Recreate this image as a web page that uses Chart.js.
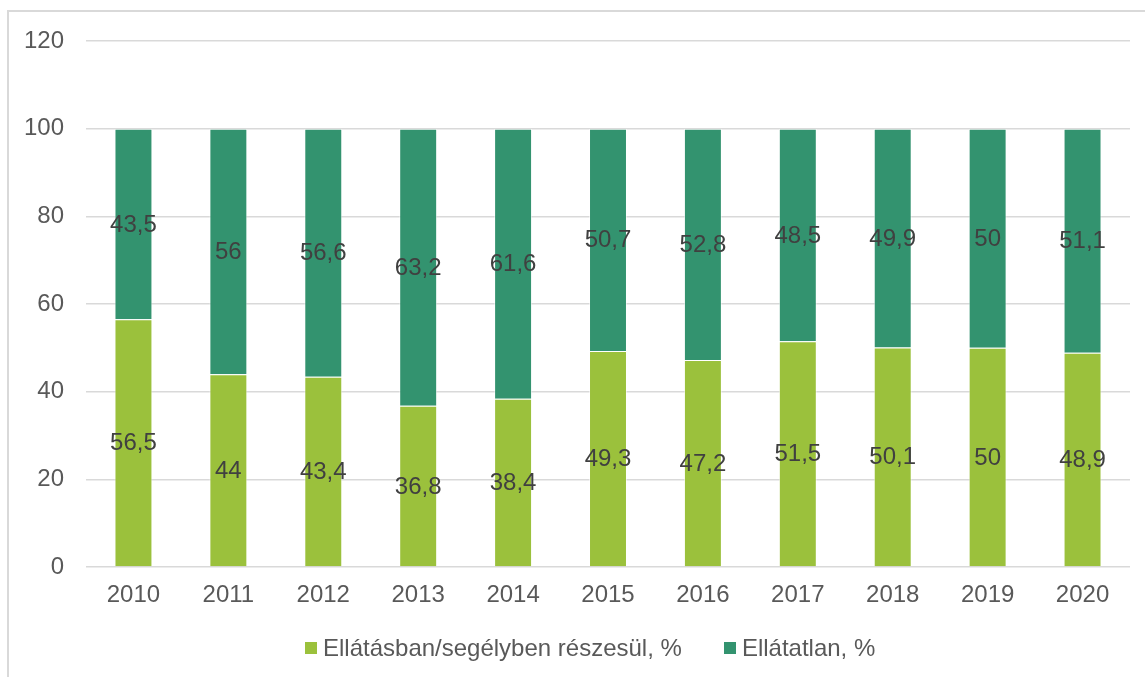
<!DOCTYPE html>
<html lang="hu">
<head>
  <meta charset="UTF-8">
  <title>Ellátásban részesülők aránya</title>
  <script src="https://cdn.jsdelivr.net/npm/chart.js"></script>
  <style>
    html, body { margin: 0; padding: 0; background: #fff; overflow: hidden; }
    .wrap { position: relative; width: 1145px; height: 677px; }
    .frame { position: absolute; left: 7px; top: 10px; right: -10px; bottom: -10px;
             border-left: 2px solid #d9d9d9; border-top: 2px solid #d9d9d9; }
    canvas { position: absolute; left: 0; top: 0; }
    .legend { position: absolute; left: 305px; top: 634px; display: flex; align-items: center;
              font-family: "Liberation Sans", Arial, sans-serif; font-size: 24px; color: #595959; }
    .legend .item { display: flex; align-items: center; }
    .legend .item + .item { margin-left: 42px; }
    .legend .box { width: 12px; height: 12px; margin-right: 6px; }
  </style>
</head>
<body>
  <div class="wrap">
    <div class="frame"></div>
    <canvas id="chart" width="1145" height="677"></canvas>
    <div class="legend" id="legend"></div>
  </div>

  <script>
    // chart data
    const years = ['2010', '2011', '2012', '2013', '2014', '2015', '2016', '2017', '2018', '2019', '2020'];
    const ellatott = [56.5, 44, 43.4, 36.8, 38.4, 49.3, 47.2, 51.5, 50.1, 50, 48.9];
    const ellatatlan = [43.5, 56, 56.6, 63.2, 61.6, 50.7, 52.8, 48.5, 49.9, 50, 51.1];
    const seriesNames = ['Ellátásban/segélyben részesül, %', 'Ellátatlan, %'];
    const seriesColors = ['#9bc13c', '#33936f'];

    const FONT = '"Liberation Sans", Arial, sans-serif';

    // value labels in the middle of each segment, with decimal comma
    const segmentLabels = {
      id: 'segmentLabels',
      afterDatasetsDraw(chart) {
        const ctx = chart.ctx;
        ctx.save();
        ctx.font = '24px ' + FONT;
        ctx.fillStyle = '#404040';
        ctx.textAlign = 'center';
        ctx.textBaseline = 'middle';
        chart.data.datasets.forEach((ds, i) => {
          const meta = chart.getDatasetMeta(i);
          meta.data.forEach((bar, j) => {
            const p = bar.getProps(['x', 'y', 'base'], true);
            const txt = String(ds.data[j]).replace('.', ',');
            ctx.fillText(txt, p.x, (p.y + p.base) / 2 + 1);
          });
        });
        ctx.restore();
      }
    };

    const ctx = document.getElementById('chart').getContext('2d');
    new Chart(ctx, {
      type: 'bar',
      data: {
        labels: years,
        datasets: [
          { label: seriesNames[0], data: ellatott, backgroundColor: seriesColors[0] },
          { label: seriesNames[1], data: ellatatlan, backgroundColor: seriesColors[1] }
        ]
      },
      options: {
        responsive: false,
        animation: false,
        layout: { padding: { top: 41, left: 0, right: 15, bottom: 60 } },
        datasets: {
          bar: {
            barPercentage: 0.8,
            categoryPercentage: 0.5,
            borderWidth: 1,
            borderColor: 'rgba(255,255,255,0.55)'
          }
        },
        plugins: {
          legend: { display: false },
          tooltip: { enabled: false }
        },
        scales: {
          x: {
            stacked: true,
            grid: { display: false, drawTicks: false },
            border: { display: false },
            ticks: { color: '#595959', font: { family: FONT, size: 24 }, padding: 14, maxRotation: 0 },
            afterFit(scale) { scale.height = 50; }
          },
          y: {
            stacked: true,
            min: 0,
            max: 120,
            grid: { color: '#d9d9d9', lineWidth: 1.5, drawTicks: false },
            border: { display: false },
            ticks: { stepSize: 20, color: '#595959', font: { family: FONT, size: 24 }, padding: 22 },
            afterFit(scale) { scale.width = 86; }
          }
        }
      },
      plugins: [segmentLabels]
    });

    // legend as html below the plot
    const legendEl = document.getElementById('legend');
    seriesNames.forEach((name, i) => {
      const item = document.createElement('div');
      item.className = 'item';
      const box = document.createElement('span');
      box.className = 'box';
      box.style.background = seriesColors[i];
      const txt = document.createElement('span');
      txt.textContent = name;
      item.appendChild(box);
      item.appendChild(txt);
      legendEl.appendChild(item);
    });
  </script>
</body>
</html>
